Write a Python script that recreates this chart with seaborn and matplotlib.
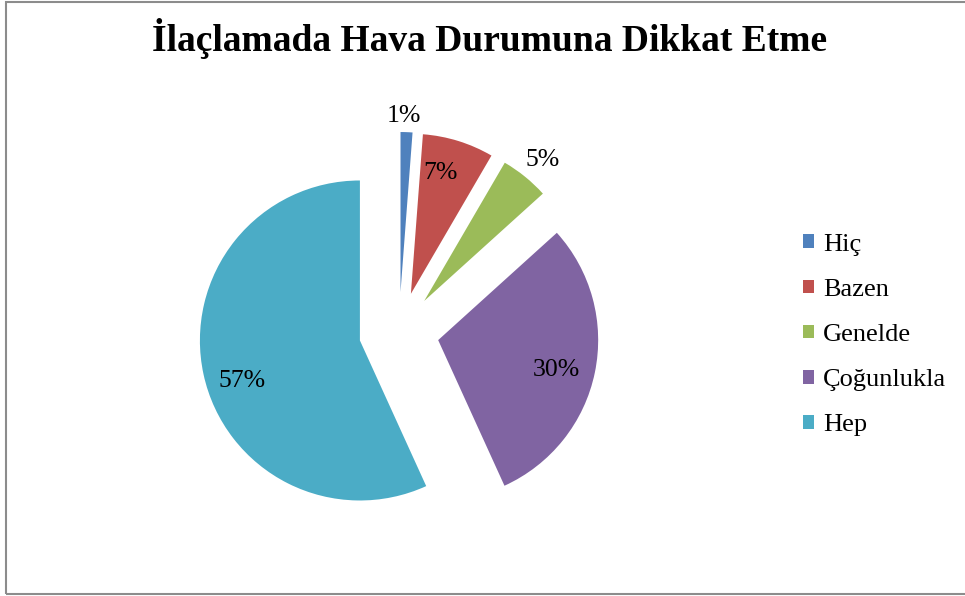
import matplotlib
matplotlib.use("Agg")
import matplotlib.pyplot as plt
from matplotlib.patches import Rectangle
import numpy as np
import seaborn as sns

categories = ["Hiç", "Bazen", "Genelde", "Çoğunlukla", "Hep"]
values = [1.2, 7.2, 4.9, 29.9, 56.8]
colors = ["#4F81BD", "#C0504D", "#9BBB59", "#8064A2", "#4BACC6"]
title = "İlaçlamada Hava Durumuna Dikkat Etme"

# label placement from each exploded wedge tip: distance (radii) and angle nudge (deg)
label_dist = [1.10, 0.78, 1.15, 0.76, 0.78]
label_turn = [1.0, 3.5, -1.0, -2.5, 6.8]

sns.set_theme(style="white")
plt.rcParams["font.family"] = ["Liberation Serif", "DejaVu Serif"]
plt.rcParams["text.color"] = "black"

W, H = 965, 596
fig = plt.figure(figsize=(W / 100, H / 100), dpi=100)
ax = fig.add_axes([0, 0, 1, 1])

pal = sns.color_palette(colors)
wedges, texts, autotexts = ax.pie(values, colors=pal, startangle=90, counterclock=False,
                                  explode=[0.25] * len(values), radius=1,
                                  wedgeprops=dict(linewidth=0, edgecolor="none"),
                                  autopct="%.0f%%", textprops=dict(fontsize=18.5, color="black"))

# move percent labels like Excel's best-fit placement
for w, t, f, d in zip(wedges, autotexts, label_dist, label_turn):
    ang = np.deg2rad((w.theta1 + w.theta2) / 2 + d)
    cx, cy = w.center
    t.set_position((cx + f * np.cos(ang), cy + f * np.sin(ang)))
    t.set_ha("center")
    t.set_va("center")

# map the axes so that 1 unit = 160 px and the pie centre sits at (399, 332)
r_px, cx_px, cy_px = 160, 399, H - 332
ax.set_xlim(-cx_px / r_px, (W - cx_px) / r_px)
ax.set_ylim(-cy_px / r_px, (H - cy_px) / r_px)
ax.set_aspect("auto")
ax.axis("off")

fig.text(490 / W, 1 - 51 / H, title, ha="center", va="baseline",
         fontsize=27, fontweight="bold", color="black")

ax.legend(wedges, categories, loc="center left", bbox_to_anchor=(803 / W, 1 - 335 / H),
          bbox_transform=fig.transFigure, frameon=False, fontsize=19,
          handlelength=0.42, handleheight=0.42, handletextpad=0.34,
          labelspacing=0.88, borderpad=0, borderaxespad=0)

fig.patches.append(Rectangle((6 / W, 2 / H), 1.2, 1 - 4 / H, transform=fig.transFigure,
                             fill=False, edgecolor="#8c8c8c", linewidth=1.5, figure=fig))

fig.savefig("out.png", dpi=100)
